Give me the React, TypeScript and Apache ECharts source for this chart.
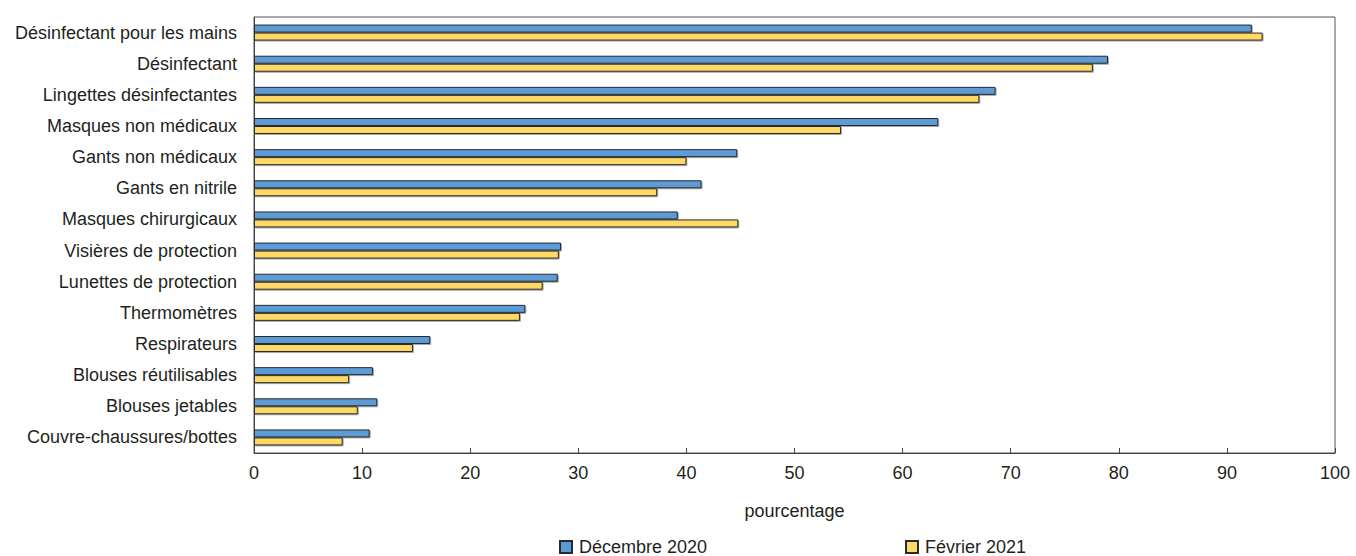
import React, { useEffect, useRef } from "react";
import * as echarts from "echarts";

const categories = [
  "Désinfectant pour les mains",
  "Désinfectant",
  "Lingettes désinfectantes",
  "Masques non médicaux",
  "Gants non médicaux",
  "Gants en nitrile",
  "Masques chirurgicaux",
  "Visières de protection",
  "Lunettes de protection",
  "Thermomètres",
  "Respirateurs",
  "Blouses réutilisables",
  "Blouses jetables",
  "Couvre-chaussures/bottes",
];

const dec2020 = [92.3, 79.0, 68.6, 63.3, 44.7, 41.4, 39.2, 28.4, 28.1, 25.1, 16.3, 11.0, 11.4, 10.7];
const feb2021 = [93.3, 77.6, 67.1, 54.3, 40.0, 37.3, 44.8, 28.2, 26.7, 24.6, 14.7, 8.8, 9.6, 8.2];

const xTicks = { min: 0, max: 100, interval: 10 };

const FONT = "'Liberation Sans', Arial, sans-serif";
const TEXT = "#231f20";

export default function App() {
  const ref = useRef<HTMLDivElement>(null);
  useEffect(() => {
    if (!ref.current) return;
    const chart = echarts.init(ref.current, undefined, { renderer: "svg" });
    const barStyle = (color: string) => ({
      color,
      borderColor: "#2a2a2a",
      borderWidth: 1,
      shadowColor: "rgba(0,0,0,0.35)",
      shadowOffsetX: 1,
      shadowOffsetY: 1,
      shadowBlur: 0,
    });
    const legendText = { fontFamily: FONT, fontSize: 18, lineHeight: 18, color: TEXT };
    chart.setOption({
      animation: false,
      textStyle: { fontFamily: FONT, color: TEXT },
      grid: {
        left: 254,
        right: 21,
        top: 17,
        bottom: 103,
        show: true,
        borderColor: "#555",
        borderWidth: 1,
      },
      legend: [
        {
          data: ["Décembre 2020"],
          left: 559,
          top: 538,
          padding: 0,
          itemWidth: 12,
          itemHeight: 12,
          itemGap: 0,
          icon: "rect",
          textStyle: { ...legendText, padding: [0, 0, 0, 2] },
        },
        {
          data: ["Février 2021"],
          left: 905,
          top: 538,
          padding: 0,
          itemWidth: 12,
          itemHeight: 12,
          itemGap: 0,
          icon: "rect",
          textStyle: { ...legendText, padding: [0, 0, 0, 2] },
        },
      ],
      xAxis: {
        type: "value",
        min: xTicks.min,
        max: xTicks.max,
        interval: xTicks.interval,
        name: "pourcentage",
        nameLocation: "middle",
        nameGap: 49,
        nameTextStyle: { fontFamily: FONT, fontSize: 18, color: TEXT },
        axisLine: { show: true, lineStyle: { color: "#444", width: 1 } },
        axisTick: { show: true, inside: true, length: 5, lineStyle: { color: "#444" } },
        axisLabel: { fontFamily: FONT, fontSize: 18, color: TEXT, margin: 11 },
        splitLine: { show: false },
      },
      yAxis: {
        type: "category",
        data: categories,
        inverse: true,
        axisLine: { show: true, lineStyle: { color: "#444", width: 1 } },
        axisTick: { show: false },
        axisLabel: { fontFamily: FONT, fontSize: 18, color: TEXT, margin: 17 },
      },
      series: [
        {
          name: "Décembre 2020",
          type: "bar",
          data: dec2020,
          barWidth: 8,
          barGap: "0%",
          itemStyle: barStyle("#5b9bd5"),
        },
        {
          name: "Février 2021",
          type: "bar",
          data: feb2021,
          barWidth: 8,
          barGap: "0%",
          itemStyle: barStyle("#ffd966"),
        },
      ],
    });
    return () => chart.dispose();
  }, []);
  return (
    <div
      ref={ref}
      style={{ position: "absolute", left: 0, top: 0, width: 1356, height: 556 }}
    />
  );
}
